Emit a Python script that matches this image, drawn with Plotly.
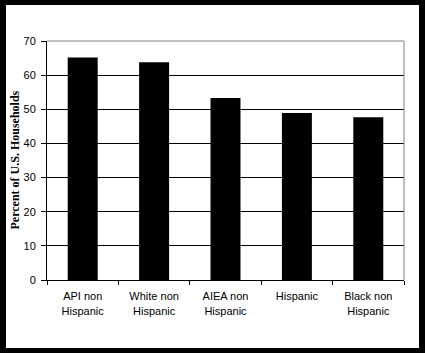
import plotly.graph_objects as go

categories = ["API non<br>Hispanic", "White non<br>Hispanic", "AIEA non<br>Hispanic", "Hispanic", "Black non<br>Hispanic"]
values = [65.2, 63.8, 53.3, 48.9, 47.7]
y_ticks = [0, 10, 20, 30, 40, 50, 60, 70]

W, H = 425, 353
L, R, T, B = 47, 404, 41, 280
pw, ph = R - L, B - T

def px(x):
    return (x - L) / pw

def py(y):
    return (B - y) / ph

fig = go.Figure()
fig.add_trace(go.Bar(x=categories, y=values, marker=dict(color="black", line=dict(width=0))))

fig.update_layout(
    width=W, height=H,
    margin=dict(l=L, r=W - R, t=T, b=H - B, pad=0),
    paper_bgcolor="black",
    plot_bgcolor="white",
    bargap=0.58,
    showlegend=False,
    font=dict(family="Liberation Sans, Arial", size=11, color="black"),
    shapes=[
        dict(type="rect", xref="paper", yref="paper", x0=px(6), x1=px(419), y0=py(348), y1=py(5),
             fillcolor="white", line=dict(width=0), layer="below"),
        dict(type="line", xref="paper", yref="paper", x0=0, x1=1, y0=1, y1=1,
             line=dict(color="#808080", width=1)),
        dict(type="line", xref="paper", yref="paper", x0=1, x1=1, y0=0, y1=1,
             line=dict(color="#808080", width=1)),
    ],
    annotations=[
        dict(text="<b>Percent of U.S. Households</b>", xref="paper", yref="paper",
             x=px(14), y=0.5, textangle=-90, showarrow=False,
             font=dict(family="Liberation Serif, Times New Roman", size=12, color="black"),
             xanchor="center", yanchor="middle"),
    ],
)

fig.update_yaxes(
    range=[0, 70], tickvals=y_ticks, showgrid=True, gridcolor="black", gridwidth=1,
    showline=True, linecolor="black", linewidth=1, ticks="outside", ticklen=5,
    tickcolor="black", zeroline=False, fixedrange=True, ticklabelstandoff=3,
)
fig.update_xaxes(
    type="category", showline=True, linecolor="black", linewidth=1,
    ticks="outside", tickson="boundaries", ticklen=4, tickcolor="black",
    showgrid=False, fixedrange=True, ticklabelstandoff=6,
)

fig.write_html("out.html")
